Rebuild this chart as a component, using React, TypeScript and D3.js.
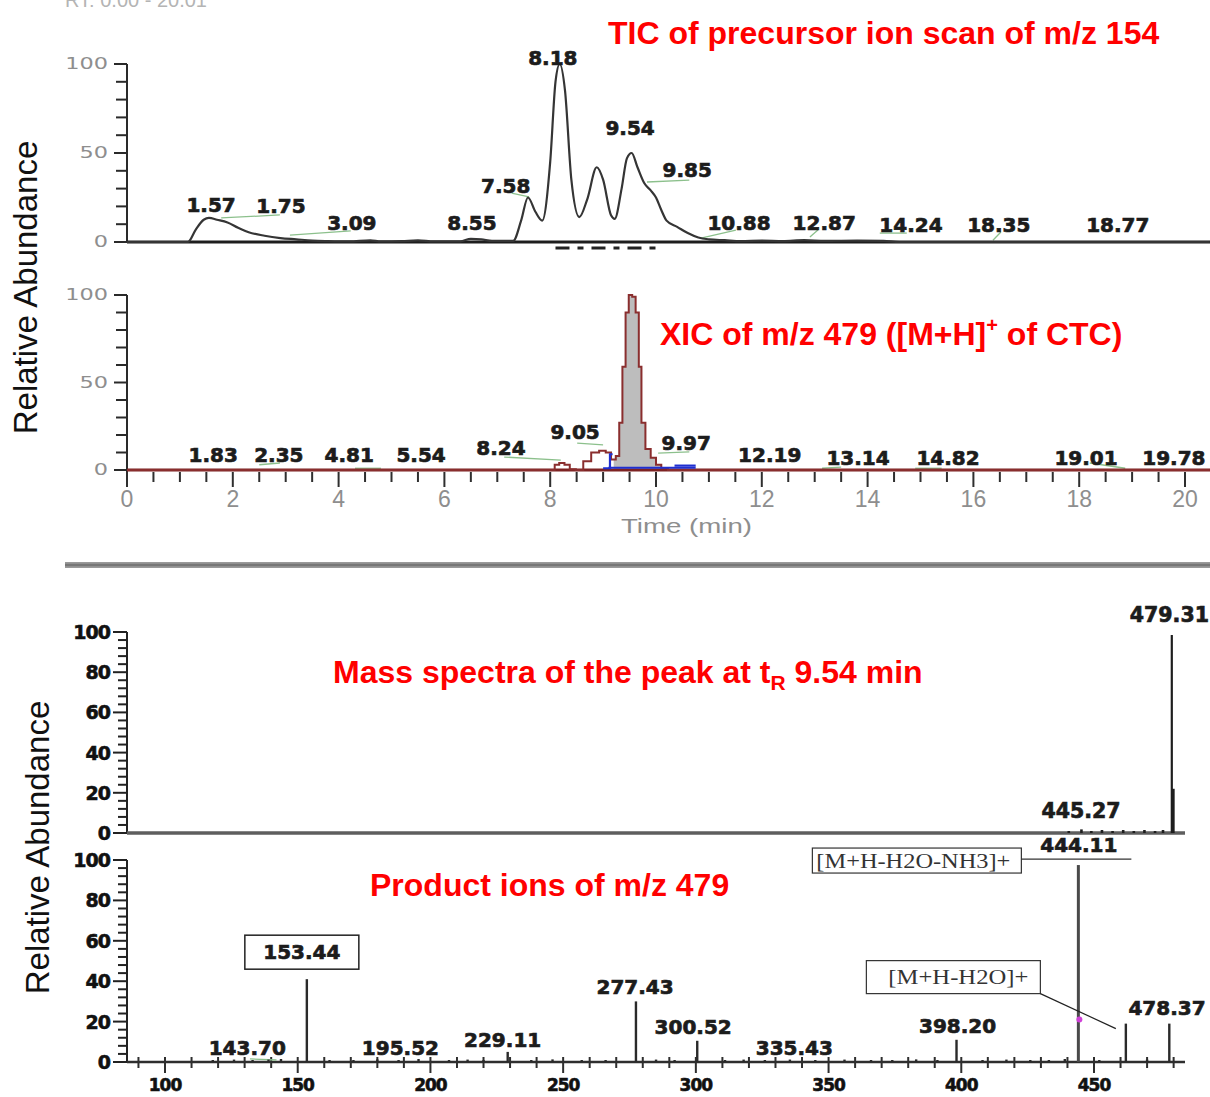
import React from "react";
import * as d3 from "d3";

// ---------- data ----------
// TIC of the precursor ion scan of m/z 154: [time (min), relative abundance (%)]
const ticTrace: [number, number][] = [
  [0, 0], [1.15, 0], [1.3, 7], [1.45, 12.5], [1.55, 13.5], [1.7, 12.5], [1.9, 11], [2.1, 8],
  [2.3, 5.5], [2.6, 3.5], [2.9, 2.2], [3.2, 1.5], [3.5, 0.8], [3.8, 0.5], [4.2, 0.3], [4.6, 0.9],
  [4.8, 0.3], [5.2, 0.5], [5.5, 0.9], [5.8, 0.3], [6.3, 0.4], [6.5, 1.8], [6.7, 1.5], [6.9, 0.6],
  [7.3, 0.6], [7.45, 12], [7.58, 25], [7.72, 17], [7.85, 12], [8.0, 45], [8.1, 90], [8.18, 100],
  [8.28, 85], [8.4, 35], [8.55, 14], [8.7, 24], [8.88, 42], [9.0, 35], [9.15, 15], [9.22, 13],
  [9.35, 30], [9.45, 47], [9.54, 50], [9.65, 42], [9.78, 33], [9.9, 29], [10.0, 25], [10.1, 18],
  [10.2, 12], [10.4, 8.5], [10.6, 5], [10.8, 2.5], [11.0, 1.5], [11.3, 1], [11.6, 0.5], [12.0, 0.8],
  [12.4, 0.5], [12.8, 1], [13.2, 0.6], [13.8, 0.8], [14.3, 0.6], [14.6, 0], [20.47, 0],
];

// XIC of m/z 479: [time (min), relative abundance (%)]
const xicTrace: [number, number][] = [
  [0, 0], [8.05, 0], [8.12, 3], [8.22, 4], [8.32, 3], [8.42, 0.5], [8.55, 0], [8.7, 5],
  [8.85, 10], [9.0, 11], [9.1, 10], [9.2, 6], [9.28, 8], [9.33, 27], [9.4, 59], [9.45, 90],
  [9.52, 100], [9.58, 99], [9.65, 90], [9.7, 59], [9.75, 27], [9.85, 12], [9.95, 7], [10.05, 3],
  [10.15, 1], [10.3, 0], [20.47, 0],
];

// integration baseline of the XIC peak
const xicBaselines: [number, number][][] = [
  [[9.0, 1], [9.13, 1], [9.13, 9], [9.18, 9]],
  [[9.1, 1.3], [10.75, 1.3]],
  [[10.35, 2.5], [10.75, 2.5]],
];

// peak labels: text, anchor time, anchor level
const ticLabels = [
  { text: "1.57", t: 1.59, v: 16.9 },
  { text: "1.75", t: 2.91, v: 16.3 },
  { text: "3.09", t: 4.25, v: 6.7 },
  { text: "8.55", t: 6.52, v: 6.7 },
  { text: "7.58", t: 7.16, v: 27.5 },
  { text: "8.18", t: 8.05, v: 99.4 },
  { text: "9.54", t: 9.51, v: 60 },
  { text: "9.85", t: 10.59, v: 36.5 },
  { text: "10.88", t: 11.57, v: 6.7 },
  { text: "12.87", t: 13.18, v: 6.7 },
  { text: "14.24", t: 14.82, v: 5.6 },
  { text: "18.35", t: 16.48, v: 5.6 },
  { text: "18.77", t: 18.73, v: 5.6 },
];

const xicLabels = [
  { text: "1.83", t: 1.63, v: 4.6 },
  { text: "2.35", t: 2.87, v: 4.6 },
  { text: "4.81", t: 4.2, v: 4.6 },
  { text: "5.54", t: 5.56, v: 4.6 },
  { text: "8.24", t: 7.07, v: 8.6 },
  { text: "9.05", t: 8.47, v: 17.7 },
  { text: "9.97", t: 10.57, v: 11.4 },
  { text: "12.19", t: 12.15, v: 4.6 },
  { text: "13.14", t: 13.82, v: 2.9 },
  { text: "14.82", t: 15.52, v: 2.9 },
  { text: "19.01", t: 18.13, v: 2.9 },
  { text: "19.78", t: 19.79, v: 2.9 },
];

// label leader lines: [t1, v1, t2, v2]
const ticLeaders: number[][] = [
  [1.78, 13.5, 2.89, 15.2], [3.08, 3.9, 4.23, 6.2], [7.27, 27.5, 7.6, 25.3],
  [9.83, 33.7, 10.63, 34.8], [10.85, 2.2, 11.51, 6.7], [12.91, 2.8, 13.06, 6.7],
  [14.23, 5, 14.74, 5], [16.37, 1, 16.52, 5.6],
];
const xicLeaders: number[][] = [
  [2.5, 3, 2.89, 4], [4.31, 1, 4.8, 1], [7.13, 7.4, 8.2, 5.7], [8.51, 15.4, 9.0, 14.3],
  [10.04, 9.7, 10.63, 10.3], [13.14, 1, 13.5, 1.7], [14.9, 1, 15.4, 1], [18.2, 4, 18.87, 1],
];

// full-scan mass spectrum at 9.54 min: [m/z, relative abundance]
const msPeaks: [number, number][] = [
  [440.5, 1], [445.27, 1.8], [449, 1], [453, 1.5], [457, 1], [461, 1.5], [465, 1],
  [469, 1.5], [473, 1], [476, 1.5], [479.31, 98.5], [479.9, 22],
];
const msLabels = [
  { text: "479.31", mz: 478.4, v: 105 },
  { text: "445.27", mz: 445.1, v: 7.5 },
];

// product ion spectrum of m/z 479: [m/z, relative abundance]
const productPeaks: [number, number][] = [
  [118, 1], [126, 1.2], [133, 1], [139, 1.2], [143.7, 1.5], [153.44, 41], [162, 1], [171, 1],
  [180, 1.3], [188, 1], [195.52, 1.5], [207, 1], [214, 1.2], [220, 1], [229.11, 5], [238, 1],
  [246, 1.3], [257, 1], [266, 1], [277.43, 30], [285, 1.2], [292, 1], [300.52, 10.5], [311, 1],
  [318, 1.2], [326, 1], [335.43, 1.2], [345, 1], [356, 1.2], [366, 1], [374, 1], [383, 1.3],
  [391, 1], [398.2, 11], [408, 1], [417, 1.2], [426, 1], [433, 1], [439, 1.5], [444.11, 97.5],
  [452, 1], [462, 19], [470, 1.2], [478.37, 19],
];
const productLabels = [
  { text: "143.70", mz: 131, v: 3.5 },
  { text: "195.52", mz: 188.7, v: 3.5 },
  { text: "229.11", mz: 227.2, v: 7.4 },
  { text: "277.43", mz: 277.1, v: 33.7 },
  { text: "300.52", mz: 299, v: 13.9 },
  { text: "335.43", mz: 337.1, v: 3.5 },
  { text: "398.20", mz: 398.6, v: 14.4 },
  { text: "444.11", mz: 444.3, v: 104 },
  { text: "478.37", mz: 477.5, v: 23.3 },
];

const timeTicks = d3.range(0, 20.01, 2);
const chromYTicks = [0, 50, 100];
const massYTicks = [0, 20, 40, 60, 80, 100];
const mzTicks = [100, 150, 200, 250, 300, 350, 400, 450];

// ---------- scales ----------
const tX = d3.scaleLinear().domain([0, 20]).range([127, 1185]);
const ticY = d3.scaleLinear().domain([0, 100]).range([242, 64]);
const xicY = d3.scaleLinear().domain([0, 100]).range([470, 295]);
const mzX = d3.scaleLinear().domain([100, 450]).range([165, 1094]);
const msY = d3.scaleLinear().domain([0, 100]).range([833, 632]);
const piY = d3.scaleLinear().domain([0, 100]).range([1062, 860]);

const SANS = "'Liberation Sans', Arial, sans-serif";
const HEAVY = "'DejaVu Sans', sans-serif";
const SERIF = "'Liberation Serif', 'Times New Roman', serif";
const RED = "#ff0000";
const GRAY_TXT = "#8e8e8e";

function GrayNum({ x, y, text }: { x: number; y: number; text: string }) {
  return (
    <text
      transform={`translate(${x},${y}) scale(1.4,1)`}
      textAnchor="end"
      dominantBaseline="central"
      fontFamily={HEAVY}
      fontSize={16}
      fill={GRAY_TXT}
    >
      {text}
    </text>
  );
}

function PeakLabel({ x, y, text, size = 20 }: { x: number; y: number; text: string; size?: number }) {
  return (
    <text
      x={x}
      y={y}
      textAnchor="middle"
      fontFamily={HEAVY}
      fontWeight="bold"
      fontSize={size}
      fill="#1c1c1c"
      stroke="#1c1c1c"
      strokeWidth={0.7}
    >
      {text}
    </text>
  );
}

export default function App() {
  const ticLine = d3
    .line<[number, number]>()
    .x((d) => tX(d[0]))
    .y((d) => ticY(d[1]))
    .curve(d3.curveMonotoneX);

  const xicLine = d3
    .line<[number, number]>()
    .x((d) => tX(d[0]))
    .y((d) => xicY(d[1]))
    .curve(d3.curveStep);

  const xicArea = d3
    .area<[number, number]>()
    .x((d) => tX(d[0]))
    .y0(xicY(0))
    .y1((d) => xicY(d[1]))
    .curve(d3.curveStep);

  const xicPeak = xicTrace.filter((d) => d[0] >= 9.2 && d[0] <= 10.2);
  const xEnd = 1210;

  const chromMinor = d3.range(0, 100.1, 10);
  const timeMinor = d3.range(0, 20.01, 0.5);
  const massMinor = d3.range(0, 100.1, 4);
  const mzMinor = d3.range(90, 481, 10);

  const x444 = mzX(444.11);
  const x462 = mzX(462);

  return (
    <svg
      width={1210}
      height={1097}
      viewBox="0 0 1210 1097"
      style={{ position: "absolute", left: 0, top: 0, background: "#fff", display: "block" }}
    >
      <rect x={0} y={0} width={1210} height={1097} fill="#fff" />

      {/* clipped header of the data file */}
      <text x={65} y={7} fontFamily={SANS} fontSize={20} fill="#b4b4b4">
        RT: 0.00 - 20.01
      </text>

      {/* ===== TIC panel ===== */}
      <line x1={127} x2={127} y1={ticY(100)} y2={ticY(0)} stroke="#2a2a2a" strokeWidth={2} />
      {chromMinor.map((v) => (
        <line
          key={"tt" + v}
          x1={v % 50 === 0 ? 114 : 116}
          x2={127}
          y1={ticY(v)}
          y2={ticY(v)}
          stroke="#2a2a2a"
          strokeWidth={2}
        />
      ))}
      {chromYTicks.map((v) => (
        <GrayNum key={"tl" + v} x={108} y={ticY(v)} text={String(v)} />
      ))}
      {ticLeaders.map((s, i) => (
        <line key={"tg" + i} x1={tX(s[0])} y1={ticY(s[1])} x2={tX(s[2])} y2={ticY(s[3])} stroke="#8cc08c" strokeWidth={1.3} />
      ))}
      <line x1={tX(0)} x2={xEnd} y1={ticY(0)} y2={ticY(0)} stroke="#1e1e1e" strokeWidth={3} />
      <line
        x1={tX(8.1)}
        x2={tX(10.0)}
        y1={ticY(0) + 6}
        y2={ticY(0) + 6}
        stroke="#222"
        strokeWidth={3}
        strokeDasharray="14 8 6 8"
      />
      <path d={ticLine(ticTrace) || ""} fill="none" stroke="#353535" strokeWidth={2.2} strokeLinejoin="round" />
      {ticLabels.map((l) => (
        <PeakLabel key={"tpl" + l.text + l.t} x={tX(l.t)} y={ticY(l.v)} text={l.text} />
      ))}
      <text x={608} y={44} fontFamily={SANS} fontWeight="bold" fontSize={32} fill={RED}>
        TIC of precursor ion scan of m/z 154
      </text>

      {/* ===== XIC panel ===== */}
      <line x1={127} x2={127} y1={xicY(100)} y2={xicY(0) + 10} stroke="#2a2a2a" strokeWidth={2} />
      {chromMinor.map((v) => (
        <line
          key={"xt" + v}
          x1={v % 50 === 0 ? 114 : 116}
          x2={127}
          y1={xicY(v)}
          y2={xicY(v)}
          stroke="#2a2a2a"
          strokeWidth={2}
        />
      ))}
      {chromYTicks.map((v) => (
        <GrayNum key={"xl" + v} x={108} y={xicY(v)} text={String(v)} />
      ))}
      {timeMinor.map((t) => (
        <line
          key={"tm" + t}
          x1={tX(t)}
          x2={tX(t)}
          y1={xicY(0) + 2}
          y2={xicY(0) + (t % 2 === 0 ? 17 : 12)}
          stroke="#2f2f2f"
          strokeWidth={2}
        />
      ))}
      {timeTicks.map((t) => (
        <text key={"tx" + t} x={tX(t)} y={507} textAnchor="middle" fontFamily={SANS} fontSize={23} fill={GRAY_TXT}>
          {t}
        </text>
      ))}
      <text x={621} y={533} fontFamily={SANS} fontSize={21} fill={GRAY_TXT} textLength={131} lengthAdjust="spacingAndGlyphs">
        Time (min)
      </text>
      {xicLeaders.map((s, i) => (
        <line key={"xg" + i} x1={tX(s[0])} y1={xicY(s[1])} x2={tX(s[2])} y2={xicY(s[3])} stroke="#8cc08c" strokeWidth={1.3} />
      ))}
      <path d={xicArea(xicPeak) || ""} fill="#bdbdbd" />
      <line x1={tX(0)} x2={xEnd} y1={xicY(0)} y2={xicY(0)} stroke="#7d2323" strokeWidth={3} />
      <path d={xicLine(xicTrace) || ""} fill="none" stroke="#8a2e2e" strokeWidth={2} />
      {xicBaselines.map((seg, i) => (
        <polyline
          key={"bl" + i}
          points={seg.map((d) => `${tX(d[0])},${xicY(d[1])}`).join(" ")}
          fill="none"
          stroke="#1f2fd0"
          strokeWidth={2.2}
        />
      ))}
      {xicLabels.map((l) => (
        <PeakLabel key={"xpl" + l.text} x={tX(l.t)} y={xicY(l.v)} text={l.text} />
      ))}
      <text x={660} y={345} fontFamily={SANS} fontWeight="bold" fontSize={32} fill={RED}>
        XIC of m/z 479 ([M+H]
        <tspan dy={-13} fontSize={20}>
          +
        </tspan>
        <tspan dy={13}> of CTC)</tspan>
      </text>

      {/* y titles */}
      <text transform="translate(37,287.5) rotate(-90)" textAnchor="middle" fontFamily={SANS} fontSize={33} fill="#111">
        Relative Abundance
      </text>
      <text transform="translate(49,847.5) rotate(-90)" textAnchor="middle" fontFamily={SANS} fontSize={33} fill="#111">
        Relative Abundance
      </text>

      {/* divider */}
      <line x1={65} x2={1210} y1={565} y2={565} stroke="#9a9a9a" strokeWidth={6} />
      <line x1={65} x2={1210} y1={565} y2={565} stroke="#777" strokeWidth={2.5} />

      {/* ===== full scan mass spectrum ===== */}
      <line x1={127} x2={127} y1={msY(100)} y2={msY(0)} stroke="#222" strokeWidth={2} />
      {massMinor.map((v) => (
        <line
          key={"mt" + v}
          x1={v % 20 === 0 ? 113 : 118}
          x2={127}
          y1={msY(v)}
          y2={msY(v)}
          stroke="#222"
          strokeWidth={2}
        />
      ))}
      {massYTicks.map((v) => (
        <text
          key={"ml" + v}
          x={110}
          y={msY(v)}
          textAnchor="end"
          dominantBaseline="central"
          fontFamily={HEAVY}
          fontWeight="bold"
          fontSize={19}
          letterSpacing={-1}
          fill="#111"
          stroke="#111"
          strokeWidth={0.6}
        >
          {v}
        </text>
      ))}
      <line x1={127} x2={1185} y1={msY(0)} y2={msY(0)} stroke="#5e5e5e" strokeWidth={3.5} />
      {msPeaks.map(([mz, v]) => (
        <line
          key={"ms" + mz}
          x1={mzX(mz)}
          x2={mzX(mz)}
          y1={msY(0)}
          y2={msY(v)}
          stroke="#1e1e1e"
          strokeWidth={v > 50 ? 2.2 : 2.6}
        />
      ))}
      {msLabels.map((l) => (
        <PeakLabel key={"msl" + l.text} x={mzX(l.mz)} y={msY(l.v)} text={l.text} size={20.5} />
      ))}
      <text x={333} y={683} fontFamily={SANS} fontWeight="bold" fontSize={32} fill={RED}>
        Mass spectra of the peak at t
        <tspan dy={7} fontSize={21}>
          R
        </tspan>
        <tspan dy={-7}> 9.54 min</tspan>
      </text>

      {/* ===== product ion spectrum ===== */}
      <line x1={127} x2={127} y1={piY(100)} y2={piY(0)} stroke="#222" strokeWidth={2} />
      {massMinor.map((v) => (
        <line
          key={"pt" + v}
          x1={v % 20 === 0 ? 113 : 118}
          x2={127}
          y1={piY(v)}
          y2={piY(v)}
          stroke="#222"
          strokeWidth={2}
        />
      ))}
      {massYTicks.map((v) => (
        <text
          key={"pl" + v}
          x={110}
          y={piY(v)}
          textAnchor="end"
          dominantBaseline="central"
          fontFamily={HEAVY}
          fontWeight="bold"
          fontSize={19}
          letterSpacing={-1}
          fill="#111"
          stroke="#111"
          strokeWidth={0.6}
        >
          {v}
        </text>
      ))}
      <line x1={127} x2={1185} y1={piY(0)} y2={piY(0)} stroke="#2e2e2e" strokeWidth={2.5} />
      {mzMinor.map((m) => (
        <line
          key={"mzt" + m}
          x1={mzX(m)}
          x2={mzX(m)}
          y1={piY(0) - 5}
          y2={piY(0) + (m % 50 === 0 ? 11 : 6)}
          stroke="#2e2e2e"
          strokeWidth={2}
        />
      ))}
      {mzTicks.map((m) => (
        <text
          key={"mzl" + m}
          x={mzX(m)}
          y={1091}
          textAnchor="middle"
          fontFamily={HEAVY}
          fontWeight="bold"
          fontSize={17}
          letterSpacing={-1}
          fill="#111"
          stroke="#111"
          strokeWidth={0.6}
        >
          {m}
        </text>
      ))}
      <line x1={mzX(132)} x2={mzX(142)} y1={piY(1.5)} y2={piY(1)} stroke="#8cc08c" strokeWidth={1.3} />
      {productPeaks.map(([mz, v]) => (
        <line
          key={"pp" + mz}
          x1={mzX(mz)}
          x2={mzX(mz)}
          y1={piY(0)}
          y2={piY(v)}
          stroke={mz === 444.11 ? "#4a4a4a" : "#2a2a2a"}
          strokeWidth={mz === 444.11 ? 3 : 2.4}
        />
      ))}
      {productLabels.map((l) => (
        <PeakLabel key={"ppl" + l.text} x={mzX(l.mz)} y={piY(l.v)} text={l.text} />
      ))}

      {/* boxed annotation of the base product ion 153.44 */}
      <rect x={mzX(153.44) - 62} y={piY(41) - 44} width={114} height={34} fill="#fff" stroke="#222" strokeWidth={1.5} />
      <PeakLabel x={mzX(153.44) - 5} y={piY(41) - 20} text="153.44" />

      {/* [M+H-H2O-NH3]+ */}
      <rect x={x444 - 266} y={piY(97.5) - 17} width={209} height={25} fill="#fff" stroke="#333" strokeWidth={1.2} />
      <text
        x={x444 - 262}
        y={piY(97.5) + 3}
        fontFamily={SERIF}
        fontSize={20}
        fill="#333"
        textLength={194}
        lengthAdjust="spacingAndGlyphs"
      >
        [M+H-H2O-NH3]+
      </text>
      <line x1={x444 - 57} x2={x444 + 53} y1={piY(97.5) - 6} y2={piY(97.5) - 6} stroke="#333" strokeWidth={1.2} />

      {/* [M+H-H2O]+ */}
      <rect x={x444 - 212} y={piY(19) - 63} width={174} height={33} fill="#fff" stroke="#333" strokeWidth={1.2} />
      <text
        x={x444 - 190}
        y={piY(19) - 40}
        fontFamily={SERIF}
        fontSize={20}
        fill="#333"
        textLength={140}
        lengthAdjust="spacingAndGlyphs"
      >
        [M+H-H2O]+
      </text>
      <line x1={x444 - 38} y1={piY(19) - 30} x2={x462 - 10} y2={piY(19) + 5} stroke="#222" strokeWidth={1.2} />
      <circle cx={x444 + 1} cy={piY(21)} r={3} fill="#d040d8" />

      <text x={370} y={896} fontFamily={SANS} fontWeight="bold" fontSize={32} fill={RED}>
        Product ions of m/z 479
      </text>
    </svg>
  );
}
